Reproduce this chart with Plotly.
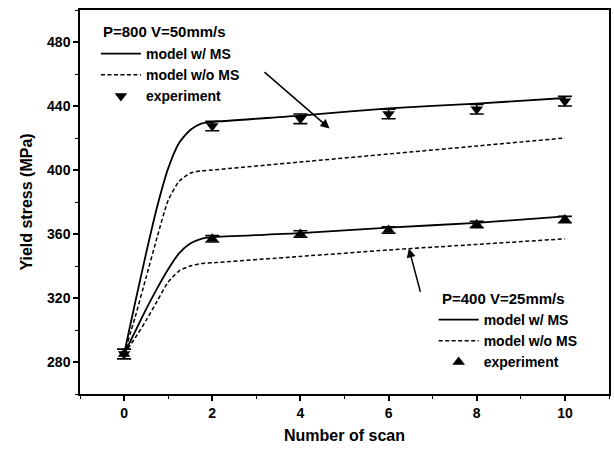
import plotly.graph_objects as go

# Scan counts for the model curves (dense near the first two scans)
model_x = [0, 0.25, 0.5, 0.75, 1.0, 1.25, 1.5, 1.75, 2, 4, 6, 8, 10]

# P=800 V=50mm/s
hi_ms = [285, 317, 348, 377, 401, 417, 425, 429, 430, 434, 438.5, 441.5, 445]
hi_noms = [285, 308, 333, 358, 381, 393, 398, 399.5, 400, 405, 410, 415, 420]
hi_exp_x = [0, 2, 4, 6, 8, 10]
hi_exp = [285, 427.5, 432, 435, 438, 443]
hi_err = [3, 3, 3, 3, 3, 3]

# P=400 V=25mm/s
lo_ms = [285, 299, 313, 326, 338, 348, 354, 357, 358, 360.5, 364, 367, 371]
lo_noms = [285, 295, 306, 318, 330, 337, 340, 341.5, 342, 346, 350, 353.5, 357]
lo_exp_x = [0, 2, 4, 6, 8, 10]
lo_exp = [285, 357, 360, 362.5, 366, 369]
lo_err = [3, 2, 2, 2, 2, 2]

x_ticks = [0, 2, 4, 6, 8, 10]
y_ticks = [280, 320, 360, 400, 440, 480]

FONT = "Liberation Sans, Arial, sans-serif"
DASH = "4px,2.5px"
W, H = 614, 449
M_L, M_R, M_T, M_B = 80, 3, 10, 55
PW, PH = W - M_L - M_R, H - M_T - M_B


def px_x(px):
    """Horizontal pixel position -> paper fraction."""
    return (px - M_L) / PW


def px_y(py):
    """Vertical pixel position (from top) -> paper fraction."""
    return (H - M_B - py) / PH


fig = go.Figure()

# upper group (legend)
fig.add_trace(go.Scatter(x=model_x, y=hi_ms, mode="lines",
                         line=dict(color="black", width=1.8, shape="spline", smoothing=0.6),
                         name="model w/ MS", legend="legend"))
fig.add_trace(go.Scatter(x=model_x, y=hi_noms, mode="lines",
                         line=dict(color="black", width=1.5, dash=DASH, shape="spline", smoothing=0.6),
                         name="model w/o MS", legend="legend"))
fig.add_trace(go.Scatter(x=hi_exp_x, y=hi_exp, mode="markers",
                         marker=dict(symbol="triangle-down", size=11, color="black"),
                         error_y=dict(type="data", array=hi_err, color="black", thickness=1.6, width=7),
                         name="experiment", legend="legend"))

# lower group (legend2)
fig.add_trace(go.Scatter(x=model_x, y=lo_ms, mode="lines",
                         line=dict(color="black", width=1.8, shape="spline", smoothing=0.6),
                         name="model w/ MS", legend="legend2"))
fig.add_trace(go.Scatter(x=model_x, y=lo_noms, mode="lines",
                         line=dict(color="black", width=1.5, dash=DASH, shape="spline", smoothing=0.6),
                         name="model w/o MS", legend="legend2"))
fig.add_trace(go.Scatter(x=lo_exp_x, y=lo_exp, mode="markers",
                         marker=dict(symbol="triangle-up", size=11, color="black"),
                         error_y=dict(type="data", array=lo_err, color="black", thickness=1.6, width=7),
                         name="experiment", legend="legend2"))

# pointer arrows from each legend block to its curves
fig.add_annotation(x=4.66, y=426, ax=3.15, ay=462, xref="x", yref="y", axref="x", ayref="y",
                   showarrow=True, arrowhead=2, arrowsize=1.2, arrowwidth=1.5, arrowcolor="black", text="")
fig.add_annotation(x=6.46, y=351, ax=6.73, ay=323, xref="x", yref="y", axref="x", ayref="y",
                   showarrow=True, arrowhead=2, arrowsize=1.2, arrowwidth=1.5, arrowcolor="black", text="")

# legend headings
head_font = dict(family=FONT, size=15, color="black", weight="bold")
fig.add_annotation(text="P=800 V=50mm/s", xref="paper", yref="paper", x=px_x(101), y=px_y(32),
                   xanchor="left", yanchor="middle", showarrow=False, font=head_font)
fig.add_annotation(text="P=400 V=25mm/s", xref="paper", yref="paper", x=px_x(441), y=px_y(298),
                   xanchor="left", yanchor="middle", showarrow=False, font=head_font)

leg_common = dict(bgcolor="rgba(0,0,0,0)", borderwidth=0, xanchor="left", yanchor="top",
                  font=dict(family=FONT, size=14, color="black", weight="bold"),
                  tracegroupgap=0, itemwidth=40)
fig.update_layout(
    legend=dict(x=px_x(96), y=px_y(38), **leg_common),
    legend2=dict(x=px_x(435), y=px_y(304), **leg_common),
)

tick_font = dict(family=FONT, size=14, color="black", weight="bold")
title_font = dict(family=FONT, size=16, color="black", weight="bold")
axis_common = dict(showline=True, linecolor="black", linewidth=1.5, mirror=True,
                   ticks="outside", ticklen=5, tickwidth=1.5, tickcolor="black",
                   showgrid=False, zeroline=False, tickfont=tick_font)
fig.update_xaxes(range=[-1, 11], tickvals=x_ticks, ticktext=[str(v) for v in x_ticks],
                 minor=dict(dtick=1, tick0=-1, ticks="outside", ticklen=3, tickwidth=1.2, tickcolor="black"),
                 title=dict(text="Number of scan", font=title_font, standoff=10),
                 **axis_common)
fig.update_yaxes(range=[260, 500], tickvals=y_ticks, ticktext=[str(v) for v in y_ticks],
                 minor=dict(dtick=20, tick0=260, ticks="outside", ticklen=3, tickwidth=1.2, tickcolor="black"),
                 title=dict(text="Yield stress (MPa)", font=title_font, standoff=10),
                 **axis_common)

fig.update_layout(width=W, height=H, margin=dict(l=M_L, r=M_R, t=M_T, b=M_B),
                  plot_bgcolor="white", paper_bgcolor="white", showlegend=True)

fig.write_html("out.html")
